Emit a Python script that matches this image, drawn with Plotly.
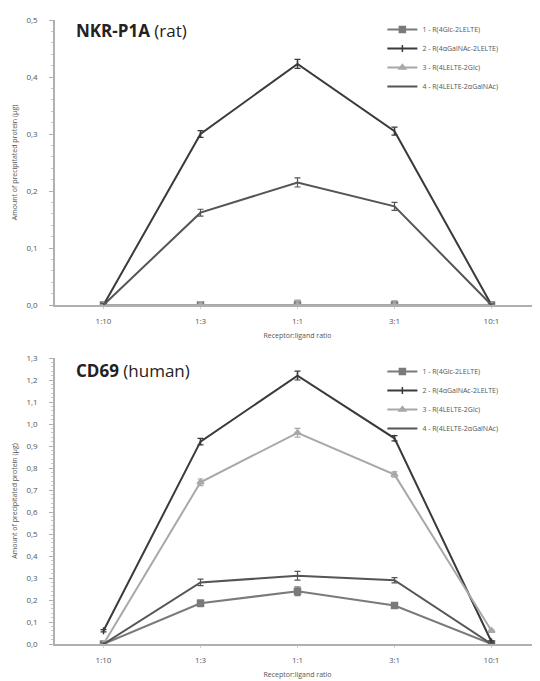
import plotly.graph_objects as go

categories = ["1:10", "1:3", "1:1", "3:1", "10:1"]
names = ["1 - R(4Glc-2LELTE)", "2 - R(4\u03b1GalNAc-2LELTE)", "3 - R(4LELTE-2Glc)", "4 - R(4LELTE-2\u03b1GalNAc)"]

rat_s1 = [0.0, 0.0, 0.0, 0.0, 0.0]
rat_s2 = [0.0, 0.30, 0.423, 0.305, 0.0]
rat_s3 = [0.0, 0.0, 0.0, 0.0, 0.0]
rat_s4 = [0.0, 0.162, 0.215, 0.173, 0.0]
rat_err = [0.003, 0.006, 0.008, 0.007, 0.002]

hum_s1 = [0.0, 0.185, 0.24, 0.175, 0.0]
hum_s2 = [0.06, 0.92, 1.22, 0.935, 0.01]
hum_s3 = [0.0, 0.735, 0.96, 0.77, 0.06]
hum_s4 = [0.0, 0.28, 0.31, 0.29, 0.0]
hum_err = [0.005, 0.015, 0.02, 0.012, 0.004]

styles = [
    dict(color="#7a7a7a", symbol="square", size=6, mode="lines+markers"),
    dict(color="#3a3a3a", symbol="line-ns-open", size=5, mode="lines+markers"),
    dict(color="#a8a8a8", symbol="triangle-up", size=6, mode="lines+markers"),
    dict(color="#555555", symbol="circle", size=0, mode="lines"),
]

W, H = 532, 673

fig = go.Figure()

def add(vals, i, xa, ya, legend):
    st = styles[i]
    fig.add_trace(go.Scatter(
        x=categories, y=vals, name=names[i], mode=st["mode"],
        line=dict(color=st["color"], width=2),
        marker=dict(color=st["color"], symbol=st["symbol"], size=st["size"],
                    line=dict(color=st["color"], width=1.5)),
        error_y=dict(type="data", array=rat_err if legend == "legend" else hum_err,
                     color=st["color"], thickness=1.2, width=3),
        xaxis=xa, yaxis=ya, legend=legend,
    ))

for i, v in enumerate([rat_s1, rat_s2, rat_s3, rat_s4]):
    add(v, i, "x", "y", "legend")
for i, v in enumerate([hum_s1, hum_s2, hum_s3, hum_s4]):
    add(v, i, "x2", "y2", "legend2")

axfont = dict(family="Open Sans, Liberation Sans, sans-serif", size=8, color="#555")

xcommon = dict(type="category", range=[-0.5, 4.5], showgrid=False, showline=True,
               linecolor="#b0b0b0", linewidth=1.5, ticks="outside", ticklen=2, tickcolor="#d0d0d0",
               tickfont=axfont, automargin=False, ticklabelstandoff=6,
               title=dict(text="Receptor:ligand ratio", font=dict(size=7, color="#555"), standoff=8))
ycommon = dict(showgrid=False, showline=True, linecolor="#b0b0b0", linewidth=1.5,
               ticks="outside", ticklen=4, tickcolor="#b0b0b0", tickfont=axfont,
               tickformat=".1f", zeroline=False, automargin=False, ticklabelstandoff=10,
               title=dict(text="Amount of precipitated protein (\u00b5g)", font=dict(size=7, color="#555"), standoff=8))

def fy(screen_y):
    return (H - (screen_y - 8)) / H

fig.update_layout(
    width=W, height=H,
    margin=dict(l=47, r=0, t=0, b=0),
    paper_bgcolor="white", plot_bgcolor="white",
    separators=", ",
    showlegend=True,
    xaxis=dict(xcommon, anchor="y"),
    yaxis=dict(ycommon, domain=[fy(305), fy(20)], range=[0, 0.5], dtick=0.1,
               minor=dict(ticks="outside", ticklen=2, tickcolor="#c8c8c8", dtick=0.02)),
    xaxis2=dict(xcommon, anchor="y2"),
    yaxis2=dict(ycommon, domain=[fy(644), fy(358)], range=[0, 1.3], dtick=0.1,
                minor=dict(ticks="outside", ticklen=2, tickcolor="#c8c8c8", dtick=0.02)),
    legend=dict(x=0.675, y=fy(15), xanchor="left", yanchor="top", font=dict(size=7, color="#555"),
                bgcolor="rgba(0,0,0,0)", tracegroupgap=0, itemwidth=30),
    legend2=dict(x=0.675, y=fy(357), xanchor="left", yanchor="top", font=dict(size=7, color="#555"),
                 bgcolor="rgba(0,0,0,0)", tracegroupgap=0, itemwidth=30),
    annotations=[
        dict(text="<b>NKR-P1A</b> (rat)", x=0.04, xref="paper", y=fy(31), yref="paper", showarrow=False,
             xanchor="left", yanchor="middle", font=dict(family="Open Sans, sans-serif", size=17, color="#222")),
        dict(text="<b>CD69</b> (human)", x=0.04, xref="paper", y=fy(370), yref="paper", showarrow=False,
             xanchor="left", yanchor="middle", font=dict(family="Open Sans, sans-serif", size=17, color="#222")),
    ],
)

fig.write_html("out.html")
